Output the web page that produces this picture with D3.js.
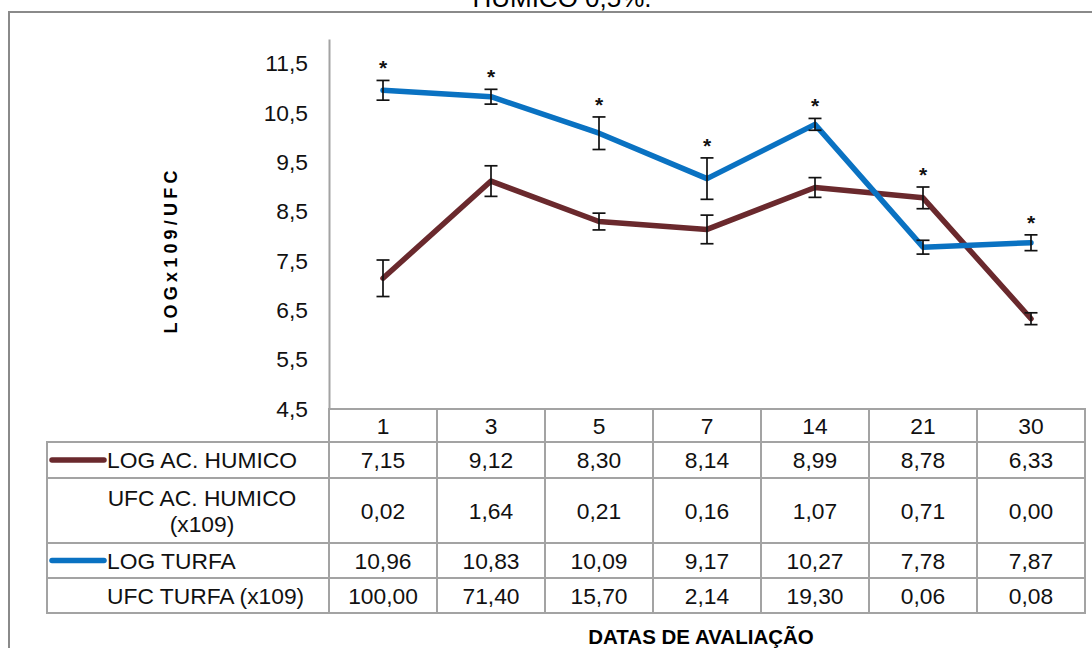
<!DOCTYPE html>
<html>
<head>
<meta charset="utf-8">
<script src="https://cdn.jsdelivr.net/npm/d3@7"></script>
<style>
  html, body { margin: 0; padding: 0; background: #fff; }
  svg { display: block; font-family: "Liberation Sans", Arial, sans-serif; }
</style>
</head>
<body>
<svg id="chart" width="1092" height="648"></svg>
<script>
// ---------- data ----------
const dates = ["1", "3", "5", "7", "14", "21", "30"];
const logHumico = [7.15, 9.12, 8.30, 8.14, 8.99, 8.78, 6.33];
const ufcHumico = [0.02, 1.64, 0.21, 0.16, 1.07, 0.71, 0.00];
const logTurfa = [10.96, 10.83, 10.09, 9.17, 10.27, 7.78, 7.87];
const ufcTurfa = [100.00, 71.40, 15.70, 2.14, 19.30, 0.06, 0.08];
const errHumico = [0.37, 0.31, 0.17, 0.29, 0.20, 0.22, 0.12];
const errTurfa = [0.20, 0.15, 0.33, 0.42, 0.12, 0.14, 0.16];
const yTicks = [4.5, 5.5, 6.5, 7.5, 8.5, 9.5, 10.5, 11.5];
const titleText = "HUMICO 0,5%.";
const yTitle = "LOGx109/UFC";
const xTitle = "DATAS DE AVALIAÇÃO";

const brown = "#6a292d";
const blue = "#0a72c2";
const grid = "#a3a3a3";
const FS = 22.8;

const svg = d3.select("#chart");
const fmt = v => d3.format(".2f")(v).replace(".", ",");
const fmtTick = v => d3.format(".1f")(v).replace(".", ",");

// ---------- scales ----------
const x = d3.scaleBand().domain(dates).range([329, 1085]).padding(0);
const y = d3.scaleLinear().domain([4.5, 12]).range([409, 39]);
const cx = d => x(d) + x.bandwidth() / 2;

// ---------- outer frame & title ----------
svg.append("rect").attr("x", 9).attr("y", 12).attr("width", 1100).attr("height", 660)
  .attr("fill", "none").attr("stroke", "#8a8a8a").attr("stroke-width", 2);
svg.append("text").attr("x", 562).attr("y", 7).attr("text-anchor", "middle")
  .attr("font-size", 26).attr("fill", "#000").text(titleText);

// ---------- y axis ----------
const yAxis = d3.axisLeft(y).tickValues(yTicks).tickFormat(fmtTick).tickSize(0).tickPadding(21).tickSizeOuter(0);
const ga = svg.append("g").attr("transform", "translate(329,0)").call(yAxis);
ga.select(".domain").attr("stroke", grid).attr("stroke-width", 2);
ga.selectAll("text").attr("font-size", FS).attr("fill", "#111")
  .attr("font-family", "'Liberation Sans', Arial, sans-serif");

svg.append("text")
  .attr("transform", "translate(177,250) rotate(-90)")
  .attr("text-anchor", "middle").attr("font-weight", "bold").attr("font-size", 18)
  .attr("letter-spacing", 4.2).attr("fill", "#000").text(yTitle);

// ---------- lines ----------
const series = [
  { vals: logHumico, err: errHumico, color: brown },
  { vals: logTurfa, err: errTurfa, color: blue }
];
const line = d3.line().x((d, i) => cx(dates[i])).y(d => y(d));
series.forEach(s => {
  svg.append("path").datum(s.vals).attr("d", line).attr("fill", "none")
    .attr("stroke", s.color).attr("stroke-width", 5.5)
    .attr("stroke-linejoin", "round").attr("stroke-linecap", "round");
});
// error bars
series.forEach(s => {
  const g = svg.append("g").attr("stroke", "#111").attr("stroke-width", 1.7);
  s.vals.forEach((v, i) => {
    const px = cx(dates[i]);
    const top = y(v + s.err[i]), bot = y(v - s.err[i]);
    g.append("line").attr("x1", px).attr("x2", px).attr("y1", top).attr("y2", bot);
    g.append("line").attr("x1", px - 6.5).attr("x2", px + 6.5).attr("y1", top).attr("y2", top);
    g.append("line").attr("x1", px - 6.5).attr("x2", px + 6.5).attr("y1", bot).attr("y2", bot);
  });
});
// significance stars
dates.forEach((d, i) => {
  const upper = Math.max(logHumico[i] + errHumico[i], logTurfa[i] + errTurfa[i]);
  svg.append("text").attr("x", cx(d)).attr("y", y(upper) - 5)
    .attr("text-anchor", "middle").attr("font-size", 21).attr("font-weight", "bold")
    .attr("fill", "#111").text("*");
});

// ---------- data table ----------
const tLeft = 47;
const headerTop = 409, headerBot = 442;
const rows = [
  { label: ["LOG AC. HUMICO"], vals: logHumico, key: brown, top: 442, bot: 478 },
  { label: ["UFC AC. HUMICO", "(x109)"], vals: ufcHumico, key: null, top: 478, bot: 543 },
  { label: ["LOG TURFA"], vals: logTurfa, key: blue, top: 543, bot: 578 },
  { label: ["UFC TURFA (x109)"], vals: ufcTurfa, key: null, top: 578, bot: 613 }
];
const tg = svg.append("g");
dates.forEach(d => {
  tg.append("rect").attr("x", x(d)).attr("y", headerTop).attr("width", x.bandwidth())
    .attr("height", headerBot - headerTop).attr("fill", "none").attr("stroke", grid).attr("stroke-width", 2);
  tg.append("text").attr("x", cx(d)).attr("y", (headerTop + headerBot) / 2).attr("dy", "0.36em")
    .attr("text-anchor", "middle").attr("font-size", FS).attr("fill", "#111").text(d);
});
rows.forEach(r => {
  const mid = (r.top + r.bot) / 2;
  tg.append("rect").attr("x", tLeft).attr("y", r.top).attr("width", 329 - tLeft)
    .attr("height", r.bot - r.top).attr("fill", "none").attr("stroke", grid).attr("stroke-width", 2);
  dates.forEach((d, i) => {
    tg.append("rect").attr("x", x(d)).attr("y", r.top).attr("width", x.bandwidth())
      .attr("height", r.bot - r.top).attr("fill", "none").attr("stroke", grid).attr("stroke-width", 2);
    tg.append("text").attr("x", cx(d)).attr("y", mid).attr("dy", "0.36em")
      .attr("text-anchor", "middle").attr("font-size", FS).attr("fill", "#111").text(fmt(r.vals[i]));
  });
  if (r.key) {
    tg.append("line").attr("x1", 52).attr("x2", 104).attr("y1", mid).attr("y2", mid)
      .attr("stroke", r.key).attr("stroke-width", 5.5).attr("stroke-linecap", "round");
  }
  if (r.label.length === 1) {
    tg.append("text").attr("x", 107).attr("y", mid).attr("dy", "0.36em")
      .attr("font-size", FS).attr("fill", "#111").text(r.label[0]);
  } else {
    r.label.forEach((t, k) => {
      tg.append("text").attr("x", 202).attr("y", mid + (k - (r.label.length - 1) / 2) * 26).attr("dy", "0.36em")
        .attr("text-anchor", "middle").attr("font-size", FS).attr("fill", "#111").text(t);
    });
  }
});

svg.append("text").attr("x", 701).attr("y", 644).attr("text-anchor", "middle")
  .attr("font-weight", "bold").attr("font-size", 20.5).attr("fill", "#000").text(xTitle);
</script>
</body>
</html>
